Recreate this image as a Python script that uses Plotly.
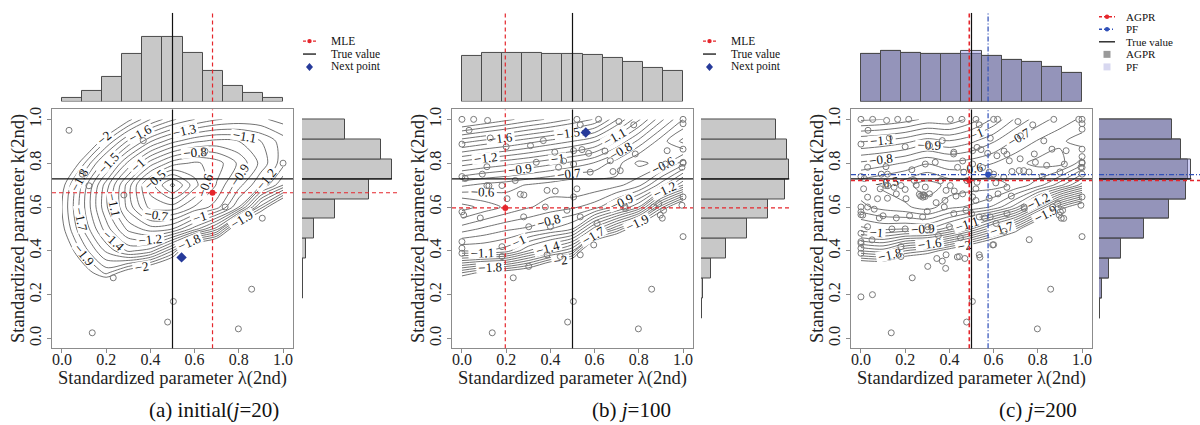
import plotly.graph_objects as go

W, H = 1200, 425
SERIF = "Liberation Serif, Times New Roman, serif"

# ---------------------------------------------------------------------------
# Tabulated normalised log-likelihood surfaces on a 0.1 grid
# rows: k = 0.0 ... 1.0, columns: lambda = 0.0 ... 1.0
# ---------------------------------------------------------------------------
grid = [0.0, 0.1, 0.2, 0.3, 0.4, 0.5, 0.6, 0.7, 0.8, 0.9, 1.0]

loglik_j20 = [
    [-3.0, -3.0, -3.0, -3.0, -3.0, -3.0, -3.0, -3.0, -3.0, -3.0, -3.0],
    [-3.0, -3.0, -3.0, -3.0, -3.0, -3.0, -3.0, -3.0, -3.0, -3.0, -3.0],
    [-2.6, -2.5, -2.5, -2.7, -2.8, -2.9, -3.0, -3.0, -3.0, -3.0, -3.0],
    [-2.36, -2.09, -1.87, -2.11, -2.3, -2.5, -2.7, -2.8, -2.9, -3.0, -3.0],
    [-2.17, -1.85, -1.58, -1.38, -1.45, -1.8, -2.4, -2.6, -2.7, -2.8, -2.9],
    [-2.04, -1.68, -1.35, -1.07, -0.95, -1.0, -1.25, -1.55, -2.3, -2.6, -2.7],
    [-2.0, -1.61, -1.22, -0.86, -0.56, -0.54, -0.71, -0.85, -1.2, -1.85, -2.35],
    [-2.05, -1.65, -1.25, -0.85, -0.45, -0.17, -0.46, -0.71, -0.96, -1.2, -1.5],
    [-2.29, -1.91, -1.53, -1.17, -0.85, -0.65, -0.58, -0.65, -0.82, -1.03, -1.26],
    [-2.61, -2.25, -1.9, -1.58, -1.31, -1.13, -1.02, -0.97, -1.0, -1.1, -1.25],
    [-2.98, -2.64, -2.32, -2.04, -1.8, -1.62, -1.5, -1.41, -1.37, -1.38, -1.44],
]

loglik_j100 = [
    [-3.0, -3.0, -3.0, -3.0, -3.0, -3.0, -3.0, -3.0, -3.0, -3.0, -3.0],
    [-3.0, -3.0, -3.0, -3.0, -3.0, -3.0, -3.0, -3.0, -3.0, -3.0, -3.0],
    [-2.6, -2.8, -2.9, -3.0, -3.0, -3.0, -3.0, -3.0, -3.0, -3.0, -3.0],
    [-1.9, -2.05, -2.1, -2.2, -2.5, -2.6, -2.8, -3.0, -3.0, -3.0, -3.0],
    [-1.0, -1.0, -1.05, -1.3, -1.5, -1.7, -2.5, -2.7, -2.8, -3.0, -3.0],
    [-0.65, -0.72, -0.78, -0.82, -0.9, -1.0, -1.45, -1.8, -2.2, -2.6, -2.8],
    [-0.35, -0.44, -0.52, -0.59, -0.64, -0.68, -0.75, -0.95, -1.2, -1.85, -2.3],
    [-0.72, -0.67, -0.64, -0.59, -0.55, -0.5, -0.53, -0.57, -0.67, -0.95, -1.3],
    [-1.15, -1.09, -1.04, -0.99, -0.93, -0.87, -0.79, -0.64, -0.47, -0.54, -0.75],
    [-1.64, -1.57, -1.51, -1.44, -1.37, -1.3, -1.21, -1.0, -0.77, -0.55, -0.37],
    [-2.19, -2.11, -2.03, -1.95, -1.88, -1.79, -1.69, -1.41, -1.12, -0.83, -0.6],
]

loglik_j200 = [
    [-3.0, -3.0, -3.0, -3.0, -3.0, -3.0, -3.0, -3.0, -3.0, -3.0, -3.0],
    [-3.0, -3.0, -3.0, -3.0, -3.0, -3.0, -3.0, -3.0, -3.0, -3.0, -3.0],
    [-2.9, -2.9, -3.0, -3.0, -3.0, -3.0, -3.0, -3.0, -3.0, -3.0, -3.0],
    [-2.5, -2.5, -2.6, -2.7, -2.8, -2.9, -3.0, -3.0, -3.0, -3.0, -3.0],
    [-1.6, -1.55, -1.8, -1.9, -2.1, -2.3, -2.5, -2.7, -2.8, -3.0, -3.0],
    [-0.93, -0.88, -0.9, -0.9, -1.05, -1.3, -1.6, -1.9, -2.4, -2.7, -2.8],
    [-0.63, -0.56, -0.52, -0.45, -0.57, -0.62, -0.72, -0.95, -1.4, -1.9, -2.2],
    [-0.53, -0.48, -0.43, -0.35, -0.43, -0.45, -0.45, -0.53, -0.65, -0.86, -1.15],
    [-0.78, -0.74, -0.69, -0.61, -0.67, -0.65, -0.6, -0.53, -0.47, -0.46, -0.65],
    [-1.11, -1.08, -1.03, -0.95, -0.99, -0.92, -0.81, -0.68, -0.59, -0.52, -0.45],
    [-1.52, -1.5, -1.45, -1.37, -1.38, -1.26, -1.08, -0.88, -0.75, -0.66, -0.58],
]

# ---------------------------------------------------------------------------
# Design points (standardized lambda, k)
# ---------------------------------------------------------------------------
design_j20_lam = [0.032, 0.368, 0.647, 1.0, 0.092, 0.122, 0.28, 0.738, 0.906, 0.232,
                  0.858, 0.504, 0.478, 0.137, 0.798]
design_j20_k = [0.95, 0.903, 0.855, 0.80, 0.75, 0.697, 0.655, 0.60, 0.549, 0.277,
                0.225, 0.169, 0.075, 0.026, 0.044]

added_j100_lam = [0.0, 0.053, 0.116, 0.52, 0.535, 0.618, 0.71, 0.777, 1.0, 1.0,
                  0.0, 0.2, 0.128, 0.31, 0.336, 0.42, 0.46, 0.505, 0.543, 0.573,
                  0.505, 0.437, 0.671, 0.784, 0.928, 0.92, 1.0, 1.0, 0.995, 0.683,
                  0.716, 0.58, 0.113, 0.0, 0.015, 0.113, 0.181, 0.241, 0.385, 0.422,
                  0.52, 0.505, 0.264, 0.0, 0.008, 0.083, 0.204, 0.279, 0.377, 0.475,
                  0.739, 0.867, 0.89, 0.912, 0.897, 0.995, 1.0, 1.0, 0.611, 0.535,
                  0.302, 0.4, 0.0, 0.0, 0.0, 0.181, 0.181, 0.302, 0.385, 0.445,
                  0.535, 0.596]
added_j100_k = [1.0, 1.0, 0.995, 1.0, 0.975, 1.0, 0.99, 0.975, 1.0, 0.98,
                0.887, 0.875, 0.915, 0.88, 0.804, 0.85, 0.81, 0.857, 0.862, 0.845,
                0.796, 0.781, 0.811, 0.842, 0.857, 0.796, 0.864, 0.804, 0.781, 0.762,
                0.766, 0.759, 0.784, 0.739, 0.73, 0.698, 0.698, 0.721, 0.676, 0.673,
                0.683, 0.646, 0.658, 0.578, 0.563, 0.55, 0.638, 0.555, 0.6, 0.585,
                0.593, 0.6, 0.615, 0.585, 0.563, 0.608, 0.646, 0.465, 0.525, 0.555,
                0.51, 0.51, 0.442, 0.412, 0.389, 0.419, 0.374, 0.329, 0.382, 0.374,
                0.382, 0.427]

added_j200_lam = [0.166, 0.216, 0.404, 0.457, 0.6, 0.872, 0.985, 1.0, 0.585, 0.525,
                  0.721, 0.827, 0.864, 0.419, 0.615, 0.66, 0.72, 0.789, 0.84, 0.736,
                  0.76, 0.6, 0.55, 0.465, 0.291, 0.23, 0.03, 0.12, 1.0, 1.0,
                  1.0, 0.9, 0.82, 0.646, 0.61, 0.525, 0.48, 0.404, 0.36, 0.291,
                  0.25, 0.2, 0.15, 0.087, 0.012, 0.03, 0.075, 0.12, 0.16, 0.27,
                  0.28, 0.285, 0.29, 0.31, 0.34, 0.38, 0.43, 0.46, 0.52, 0.58,
                  0.62, 0.66, 0.68, 0.0, 0.03, 0.06, 0.0, 0.1, 0.16, 0.22,
                  0.3, 0.42, 0.5, 0.56, 0.585, 0.66, 0.902, 0.917, 0.03, 0.0,
                  0.0, 0.05, 0.14, 0.2, 0.343, 0.368, 0.383, 0.436, 0.47, 0.538,
                  0.6, 0.648, 0.761, 0.0, 0.052, 0.3, 0.35, 0.45]
added_j200_k = [1.0, 1.0, 1.0, 1.0, 1.0, 1.0, 1.0, 0.955, 0.914, 0.872,
                0.925, 0.902, 0.864, 0.842, 0.834, 0.84, 0.82, 0.804, 0.79, 0.766,
                0.76, 0.75, 0.78, 0.759, 0.796, 0.77, 0.781, 0.75, 0.83, 0.78,
                0.75, 0.76, 0.74, 0.736, 0.71, 0.713, 0.72, 0.698, 0.72, 0.691,
                0.70, 0.68, 0.69, 0.683, 0.683, 0.645, 0.638, 0.64, 0.66, 0.65,
                0.645, 0.655, 0.648, 0.66, 0.62, 0.63, 0.65, 0.66, 0.63, 0.64,
                0.66, 0.69, 0.65, 0.6, 0.6, 0.59, 0.565, 0.56, 0.55, 0.56,
                0.58, 0.57, 0.57, 0.55, 0.555, 0.57, 0.578, 0.548, 0.51, 0.48,
                0.434, 0.45, 0.5, 0.5, 0.365, 0.353, 0.32, 0.372, 0.365, 0.37,
                0.428, 0.489, 0.451, 0.19, 0.2, 0.496, 0.47, 0.46]

# ---------------------------------------------------------------------------
# Marginal posterior histograms (11 bins over [0, 1], density)
# ---------------------------------------------------------------------------
hist_lam_j20 = [0.11, 0.37, 0.85, 1.62, 2.20, 2.20, 1.67, 1.05, 0.53, 0.28, 0.11]
hist_k_j20 = [0.006, 0.011, 0.017, 0.034, 0.15, 0.41, 1.11, 2.27, 3.05, 2.67, 1.45]
hist_lam_j100 = [1.56, 1.66, 1.66, 1.66, 1.62, 1.62, 1.58, 1.47, 1.36, 1.16, 1.05]
hist_k_j100 = [0.011, 0.023, 0.08, 0.33, 0.85, 1.55, 2.28, 2.85, 2.99, 2.90, 2.54]
hist_lam_agpr = [1.62, 1.72, 1.67, 1.62, 1.62, 1.62, 1.56, 1.41, 1.36, 1.19, 0.99]
hist_lam_pf = [1.62, 1.72, 1.67, 1.62, 1.62, 1.71, 1.56, 1.41, 1.36, 1.19, 0.99]
hist_k_agpr = [0.011, 0.045, 0.10, 0.33, 0.76, 1.53, 2.37, 2.94, 3.02, 2.79, 2.49]
hist_k_pf = [0.011, 0.045, 0.10, 0.33, 0.76, 1.53, 2.37, 2.94, 3.13, 2.79, 2.49]

# Reference values and estimates
true_lam, true_k = 0.5, 0.728
mle_j20 = (0.681, 0.665)
next_j20 = (0.541, 0.37)
mle_j100 = (0.196, 0.596)
next_j100 = (0.56, 0.94)
agpr_j200 = (0.49, 0.721)
pf_j200 = (0.575, 0.748)

legend_two_panels = ["MLE", "True value", "Next point"]
legend_last_panel = ["AGPR", "PF", "True value", "AGPR", "PF"]

RED = "#e5262c"
BLUE = "#2f4fb8"
NAVY = "#263a9a"
GRID_LINE = "#4f4f4f"
BOX = "#8c8c8c"

n_bins = len(hist_lam_j20)
bin_centers = [(i + 0.5) / n_bins for i in range(n_bins)]
bin_width = 1.0 / n_bins


def px(x):
    return x / W


def py(y):
    return 1 - y / H


fig = go.Figure()
layout_axes = {}
shapes = []
annotations = []

AX_RANGE = [-0.045, 1.045]
HIST_TOP_RANGE = [0, 3.02]
PX_PER_DENSITY = 29.5


def ax_names(k):
    return ("x" if k == 1 else f"x{k}"), ("y" if k == 1 else f"y{k}")


def lay_names(k):
    return ("xaxis" if k == 1 else f"xaxis{k}"), ("yaxis" if k == 1 else f"yaxis{k}")


panels = [
    dict(off=0, z=loglik_j20, lam=design_j20_lam, k=design_j20_k,
         hl=[hist_lam_j20], hk=[hist_k_j20], right=(302, 400),
         caption="(a) initial(<i>j</i>=20)", cap_x=214),
    dict(off=400, z=loglik_j100, lam=design_j20_lam + added_j100_lam,
         k=design_j20_k + added_j100_k,
         hl=[hist_lam_j100], hk=[hist_k_j100], right=(701, 790),
         caption="(b) <i>j</i>=100", cap_x=631),
    dict(off=799, z=loglik_j200,
         lam=design_j20_lam + added_j100_lam + added_j200_lam,
         k=design_j20_k + added_j100_k + added_j200_k,
         hl=[hist_lam_agpr, hist_lam_pf], hk=[hist_k_agpr, hist_k_pf],
         right=(1099, 1200), caption="(c) <i>j</i>=200", cap_x=1038),
]

tick_vals = [0.0, 0.2, 0.4, 0.6, 0.8, 1.0]
tick_text = ["0.0", "0.2", "0.4", "0.6", "0.8", "1.0"]

for i, p in enumerate(panels):
    off = p["off"]
    km, kt, kr = 3 * i + 1, 3 * i + 2, 3 * i + 3
    xm, ym = ax_names(km)
    xt, yt = ax_names(kt)
    xr, yr = ax_names(kr)
    lxm, lym = lay_names(km)
    lxt, lyt = lay_names(kt)
    lxr, lyr = lay_names(kr)

    box_l, box_r, box_t, box_b = 52 + off, 293 + off, 108, 348
    main_xdom = [px(box_l), px(box_r)]
    main_ydom = [py(box_b), py(box_t)]

    common = dict(range=AX_RANGE, showgrid=False, zeroline=False, showline=True,
                  mirror=True, linecolor=BOX, linewidth=1, ticks="outside",
                  ticklen=4, tickcolor=BOX, tickvals=tick_vals, ticktext=tick_text,
                  tickfont=dict(family=SERIF, size=16, color="#222"))
    layout_axes[lxm] = dict(domain=main_xdom, anchor=ym, ticklabelstandoff=-8, **common)
    layout_axes[lym] = dict(domain=main_ydom, anchor=xm, tickangle=-90, **common)

    layout_axes[lxt] = dict(domain=main_xdom, anchor=yt, range=AX_RANGE, visible=False)
    layout_axes[lyt] = dict(domain=[py(100), py(11)], anchor=xt,
                            range=HIST_TOP_RANGE, visible=False)

    r0, r1 = p["right"]
    layout_axes[lxr] = dict(domain=[px(r0), px(r1)], anchor=yr,
                            range=[0, (r1 - r0) / PX_PER_DENSITY], visible=False)
    layout_axes[lyr] = dict(domain=main_ydom, anchor=xr, range=AX_RANGE, visible=False)

    # contour surface
    fig.add_trace(go.Contour(
        x=grid, y=grid, z=p["z"], xaxis=xm, yaxis=ym, showscale=False,
        colorscale=[[0, GRID_LINE], [1, GRID_LINE]],
        contours=dict(start=-2, end=-0.15, size=0.1, coloring="lines",
                      showlabels=True, labelformat="~g",
                      labelfont=dict(family=SERIF, size=13, color="#111")),
        line=dict(width=0.8, smoothing=0.8), hoverinfo="skip"))

    # design points
    fig.add_trace(go.Scatter(
        x=p["lam"], y=p["k"], mode="markers", xaxis=xm, yaxis=ym,
        marker=dict(symbol="circle-open", size=6, color="#7a7a7a",
                    line=dict(width=1)), hoverinfo="skip"))

    # histograms
    if len(p["hl"]) == 1:
        fig.add_trace(go.Bar(x=bin_centers, y=p["hl"][0], width=bin_width,
                             xaxis=xt, yaxis=yt,
                             marker=dict(color="#c8c8c8", line=dict(color="#4a4a4a", width=1))))
        fig.add_trace(go.Bar(y=bin_centers, x=p["hk"][0], width=bin_width,
                             orientation="h", xaxis=xr, yaxis=yr,
                             marker=dict(color="#c8c8c8", line=dict(color="#4a4a4a", width=1))))
    else:
        for hist_l, hist_k, col in ((p["hl"][0], p["hk"][0], "#9a9a9a"),
                                    (p["hl"][1], p["hk"][1], "rgba(140,140,232,0.42)")):
            fig.add_trace(go.Bar(x=bin_centers, y=hist_l, width=bin_width,
                                 xaxis=xt, yaxis=yt,
                                 marker=dict(color=col, line=dict(color="#4a4a4a", width=1))))
            fig.add_trace(go.Bar(y=bin_centers, x=hist_k, width=bin_width,
                                 orientation="h", xaxis=xr, yaxis=yr,
                                 marker=dict(color=col, line=dict(color="#4a4a4a", width=1))))

    # reference lines through the box and the marginal panels
    def vline(xv, color, dash, width=1.2):
        for xa, ya in ((xm, ym), (xt, yt)):
            shapes.append(dict(type="line", xref=xa, yref=f"{ya} domain",
                               x0=xv, x1=xv, y0=0, y1=1,
                               line=dict(color=color, width=width, dash=dash)))

    def hline(yv, color, dash, width=1.2, hist_end=None):
        shapes.append(dict(type="line", xref=f"{xm} domain", yref=ym,
                           x0=0, x1=1, y0=yv, y1=yv,
                           line=dict(color=color, width=width, dash=dash)))
        if hist_end is None:
            shapes.append(dict(type="line", xref=f"{xr} domain", yref=yr,
                               x0=0, x1=1, y0=yv, y1=yv,
                               line=dict(color=color, width=width, dash=dash)))
        else:
            shapes.append(dict(type="line", xref=xr, yref=yr,
                               x0=0, x1=hist_end, y0=yv, y1=yv,
                               line=dict(color=color, width=width, dash=dash)))

    kmax = max(max(h) for h in p["hk"])
    vline(true_lam, "#111", "solid")
    hline(true_k, "#111", "solid", hist_end=kmax)

    if i < 2:
        est = mle_j20 if i == 0 else mle_j100
        nxt = next_j20 if i == 0 else next_j100
        vline(est[0], RED, "4px,3px")
        hline(est[1], RED, "4px,3px")
        fig.add_trace(go.Scatter(x=[est[0]], y=[est[1]], mode="markers",
                                 xaxis=xm, yaxis=ym, hoverinfo="skip",
                                 marker=dict(symbol="circle", size=6, color=RED)))
        fig.add_trace(go.Scatter(x=[nxt[0]], y=[nxt[1]], mode="markers",
                                 xaxis=xm, yaxis=ym, hoverinfo="skip",
                                 marker=dict(symbol="diamond", size=8, color=NAVY)))
    else:
        vline(agpr_j200[0], RED, "4px,3px", 1.6)
        hline(agpr_j200[1], RED, "4px,3px", 1.6)
        vline(pf_j200[0], BLUE, "5px,2px,1px,2px")
        hline(pf_j200[1], BLUE, "5px,2px,1px,2px")
        fig.add_trace(go.Scatter(x=[agpr_j200[0]], y=[agpr_j200[1]], mode="markers",
                                 xaxis=xm, yaxis=ym, hoverinfo="skip",
                                 marker=dict(symbol="circle", size=6, color=RED)))
        fig.add_trace(go.Scatter(x=[pf_j200[0]], y=[pf_j200[1]], mode="markers",
                                 xaxis=xm, yaxis=ym, hoverinfo="skip",
                                 marker=dict(symbol="circle", size=6, color=BLUE)))

    # axis titles and caption
    annotations.append(dict(text="Standardized parameter λ(2nd)", xref="paper", yref="paper",
                            x=px((box_l + box_r) / 2), y=py(378.5), showarrow=False,
                            xanchor="center", yanchor="middle",
                            font=dict(family=SERIF, size=18.5, color="#222")))
    annotations.append(dict(text="Standardized parameter k(2nd)", xref="paper", yref="paper",
                            x=px(19 + off), y=py((box_t + box_b) / 2), showarrow=False,
                            textangle=-90, xanchor="center", yanchor="middle",
                            font=dict(family=SERIF, size=18.5, color="#222")))
    annotations.append(dict(text=p["caption"], xref="paper", yref="paper",
                            x=px(p["cap_x"]), y=py(410), showarrow=False,
                            xanchor="center", yanchor="middle",
                            font=dict(family=SERIF, size=21, color="#111")))


# ---------------------------------------------------------------------------
# Hand-placed legends
# ---------------------------------------------------------------------------
def legend_rows(x, y_mid, items, pitch, size):
    n = len(items)
    ys = [y_mid + (j - (n - 1) / 2) * pitch for j in range(n)]
    for t, yy in zip(items, ys):
        annotations.append(dict(text=t, xref="paper", yref="paper", x=px(x), y=py(yy),
                                showarrow=False, xanchor="left", yanchor="middle",
                                borderpad=0,
                                font=dict(family=SERIF, size=size, color="#111")))
    return ys


def legend_line(x0, x1, y, color, dash, dot=None):
    shapes.append(dict(type="line", xref="paper", yref="paper",
                       x0=px(x0), x1=px(x1), y0=py(y), y1=py(y),
                       line=dict(color=color, width=1.3, dash=dash)))
    if dot:
        c = (x0 + x1) / 2
        shapes.append(dict(type="circle", xref="paper", yref="paper",
                           x0=px(c - 2.2), x1=px(c + 2.2), y0=py(y + 2.2), y1=py(y - 2.2),
                           fillcolor=dot, line=dict(color=dot, width=0)))


def legend_diamond(cx, cy, color):
    path = (f"M {px(cx)},{py(cy - 4)} L {px(cx + 3.5)},{py(cy)} "
            f"L {px(cx)},{py(cy + 4)} L {px(cx - 3.5)},{py(cy)} Z")
    shapes.append(dict(type="path", xref="paper", yref="paper", path=path,
                       fillcolor=color, line=dict(color=color, width=0)))


def legend_square(cx, cy, color):
    shapes.append(dict(type="rect", xref="paper", yref="paper",
                       x0=px(cx - 3.5), x1=px(cx + 3.5), y0=py(cy + 3.5), y1=py(cy - 3.5),
                       fillcolor=color, line=dict(color=color, width=0)))


for off in (0, 400):
    sx0, sx1, tx = 303 + off, 316 + off, 330 + off
    rows = legend_rows(tx, 52.3, legend_two_panels, 13.0, 11.5)
    legend_line(sx0, sx1, rows[0], RED, "3px,2px", dot=RED)
    legend_line(sx0, sx1, rows[1], "#111", "solid")
    legend_diamond((sx0 + sx1) / 2, rows[2], NAVY)

sx0, sx1, tx = 1099, 1115, 1125
rows = legend_rows(tx, 40, legend_last_panel, 12.6, 11)
legend_line(sx0, sx1, rows[0], RED, "3px,2px", dot=RED)
legend_line(sx0, sx1, rows[1], BLUE, "3px,2px,1px,2px", dot=BLUE)
legend_line(sx0, sx1, rows[2], "#111", "solid")
legend_square((sx0 + sx1) / 2, rows[3], "#9a9a9a")
legend_square((sx0 + sx1) / 2, rows[4], "#d8d8f0")

fig.update_layout(
    width=W, height=H, margin=dict(l=0, r=0, t=0, b=0),
    paper_bgcolor="white", plot_bgcolor="white",
    showlegend=False, barmode="overlay", bargap=0,
    shapes=shapes, annotations=annotations,
    **layout_axes,
)

fig.write_html("out.html")
